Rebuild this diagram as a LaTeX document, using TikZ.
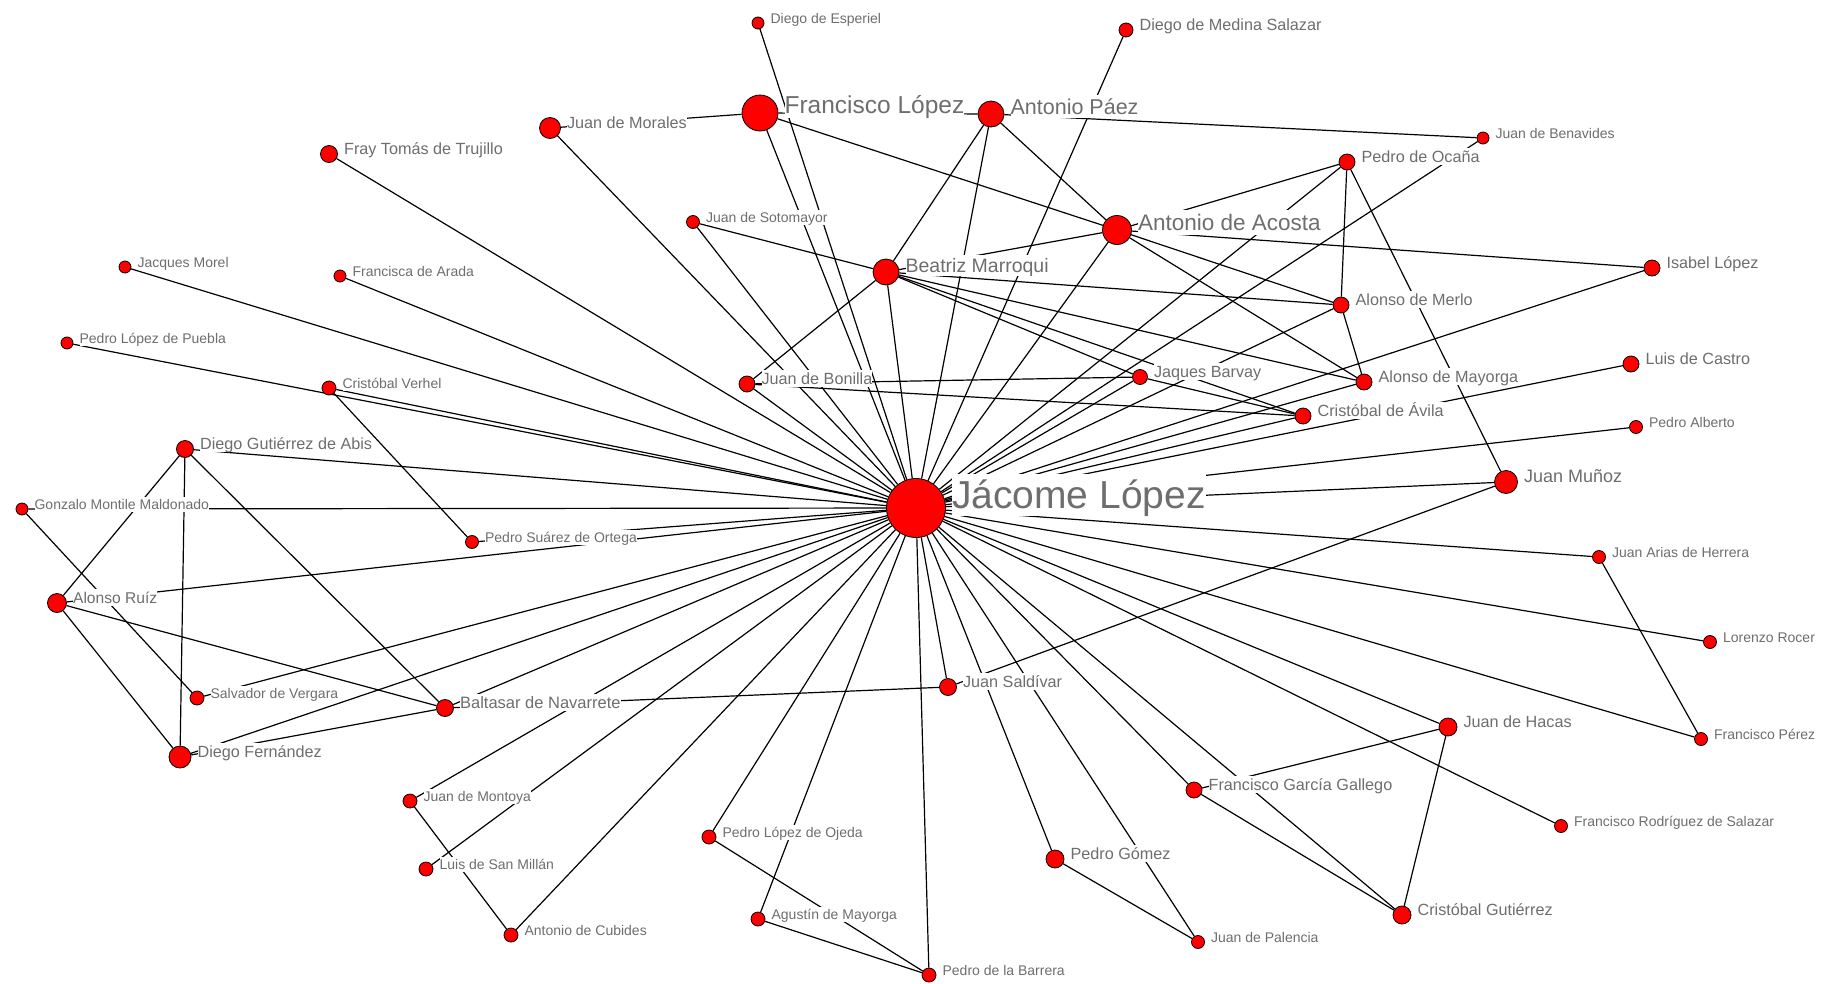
\documentclass[tikz,border=0pt]{standalone}
\usepackage{fontspec}
\setmainfont{Liberation Sans}
\usetikzlibrary{backgrounds}
\definecolor{labgray}{RGB}{110,110,110}
\definecolor{nodered}{RGB}{255,0,0}
\newcommand\mkperson[6]{%
  \node[vtx, minimum size=#4pt] (#1) at (#2,#3) {};
  \node[lab] (#1-l) at ([xshift=6pt]#1.east) {\fontsize{#5}{#5}\selectfont\vphantom{Áy}#6};}
\begin{document}
\begin{tikzpicture}[x=1pt,y=-1pt,
  vtx/.style={circle,fill=nodered,draw=black,line width=0.8pt,inner sep=0pt},
  lab/.style={anchor=base west,fill=white,inner sep=0pt,text=labgray},
  lnk/.style={draw=black,line width=1.2pt}]
\useasboundingbox (0,0) rectangle (1823,983);
% large and medium
\mkperson{JL}{916}{508}{59}{39}{Jácome López}
\mkperson{FL}{760}{113}{36}{24.5}{Francisco López}
\mkperson{AP}{991}{114}{26}{21.5}{Antonio Páez}
\mkperson{AC}{1117}{230}{29}{22.5}{Antonio de Acosta}
\mkperson{BM}{886}{272}{26}{19.5}{Beatriz Marroqui}
\mkperson{JMu}{1506}{482}{23}{18}{Juan Muñoz}
\mkperson{DF}{180}{757}{22}{16.2}{Diego Fernández}
\mkperson{AR}{57}{603}{19}{15.6}{Alonso Ruíz}
\mkperson{JMo}{550}{128}{21}{16.2}{Juan de Morales}
\mkperson{FT}{329}{154}{17}{16.2}{Fray Tomás de Trujillo}
\mkperson{PO}{1347}{162}{16}{16.2}{Pedro de Ocaña}
\mkperson{IL}{1652}{268}{16}{16.2}{Isabel López}
\mkperson{AMe}{1341}{305}{16}{16.2}{Alonso de Merlo}
\mkperson{LC}{1631}{364}{16}{16.2}{Luis de Castro}
\mkperson{JBo}{747}{384}{16}{16.2}{Juan de Bonilla}
\mkperson{JBa}{1140}{377}{15}{16.2}{Jaques Barvay}
\mkperson{AMa}{1364}{382}{16}{16.2}{Alonso de Mayorga}
\mkperson{CA}{1303}{416}{16}{16.2}{Cristóbal de Ávila}
\mkperson{DGA}{185}{449}{17}{16.2}{Diego Gutiérrez de Abis}
\mkperson{BN}{445}{708}{17}{16.5}{Baltasar de Navarrete}
\mkperson{JS}{948}{687}{17}{16.2}{Juan Saldívar}
\mkperson{JH}{1448}{727}{18}{16.2}{Juan de Hacas}
\mkperson{FGG}{1194}{790}{16}{16.2}{Francisco García Gallego}
\mkperson{PG}{1055}{859}{18}{16.2}{Pedro Gómez}
\mkperson{CG}{1402}{915}{18}{16.2}{Cristóbal Gutiérrez}
\mkperson{DMS}{1126}{30}{14}{16.2}{Diego de Medina Salazar}
% small
\mkperson{DE}{758}{23}{12}{14}{Diego de Esperiel}
\mkperson{JBe}{1483}{138}{12}{14}{Juan de Benavides}
\mkperson{JSo}{693}{222}{13}{14}{Juan de Sotomayor}
\mkperson{JMor}{125}{267}{12}{14}{Jacques Morel}
\mkperson{FA}{340}{276}{12}{14}{Francisca de Arada}
\mkperson{PLP}{67}{343}{12}{14}{Pedro López de Puebla}
\mkperson{CV}{329}{388}{14}{14}{Cristóbal Verhel}
\mkperson{GM}{22}{509}{12}{14}{Gonzalo Montile Maldonado}
\mkperson{PSO}{472}{542}{13}{14}{Pedro Suárez de Ortega}
\mkperson{PA}{1636}{427}{13}{14}{Pedro Alberto}
\mkperson{JAH}{1599}{557}{13}{14}{Juan Arias de Herrera}
\mkperson{LR}{1710}{642}{13}{14}{Lorenzo Rocer}
\mkperson{SV}{197}{698}{14}{14}{Salvador de Vergara}
\mkperson{FP}{1701}{739}{13}{14}{Francisco Pérez}
\mkperson{JMon}{410}{801}{14}{14}{Juan de Montoya}
\mkperson{FRS}{1561}{826}{13}{14}{Francisco Rodríguez de Salazar}
\mkperson{PLO}{709}{837}{14}{14}{Pedro López de Ojeda}
\mkperson{LSM}{426}{869}{14}{14}{Luis de San Millán}
\mkperson{AgM}{758}{919}{14}{14}{Agustín de Mayorga}
\mkperson{AdC}{511}{935}{14}{14}{Antonio de Cubides}
\mkperson{JP}{1198}{942}{13}{14}{Juan de Palencia}
\mkperson{PB}{929}{975}{14}{14}{Pedro de la Barrera}
\begin{scope}[on background layer]
\fill[white] (0,0) rectangle (1823,983);
\foreach \a/\b in {JL/JMo, JL/FT, JL/JMor, JL/FA, JL/PLP, JL/CV, JL/DGA, JL/GM, JL/PSO, JL/AR,
  JL/SV, JL/DF, JL/BN, JL/JMon, JL/LSM, JL/AdC, JL/PLO, JL/AgM, JL/PB, JL/JS, JL/PG, JL/JP,
  JL/FGG, JL/CG, JL/JH, JL/FRS, JL/FP, JL/LR, JL/JAH, JL/JMu, JL/PA, JL/LC, JL/IL, JL/AMa,
  JL/CA, JL/AMe, JL/JBa, JL/PO, JL/JBe, JL/AC, JL/DMS, JL/AP, JL/BM, JL/FL, JL/JSo, JL/JBo, JL/DE,
  FL/JMo, FL/AP, FL/AC, AP/BM, AP/AC, AP/JBe,
  AC/BM, AC/PO, AC/IL, AC/AMe, AC/AMa,
  BM/JSo, BM/JBo, BM/AMe, BM/AMa, BM/CA, BM/JBa,
  PO/AMe, PO/JMu, AMe/AMa, JBo/JBa, JBo/CA, JBa/CA,
  CV/PSO, DGA/AR, DGA/DF, DGA/BN, AR/DF, AR/BN, GM/SV, DF/BN, BN/JS, JS/JMu,
  JMon/AdC, PLO/PB, AgM/PB, PG/JP, FGG/JH, FGG/CG, JH/CG, JAH/FP}
  \draw[lnk] (\a) -- (\b);
\end{scope}
\end{tikzpicture}
\end{document}
